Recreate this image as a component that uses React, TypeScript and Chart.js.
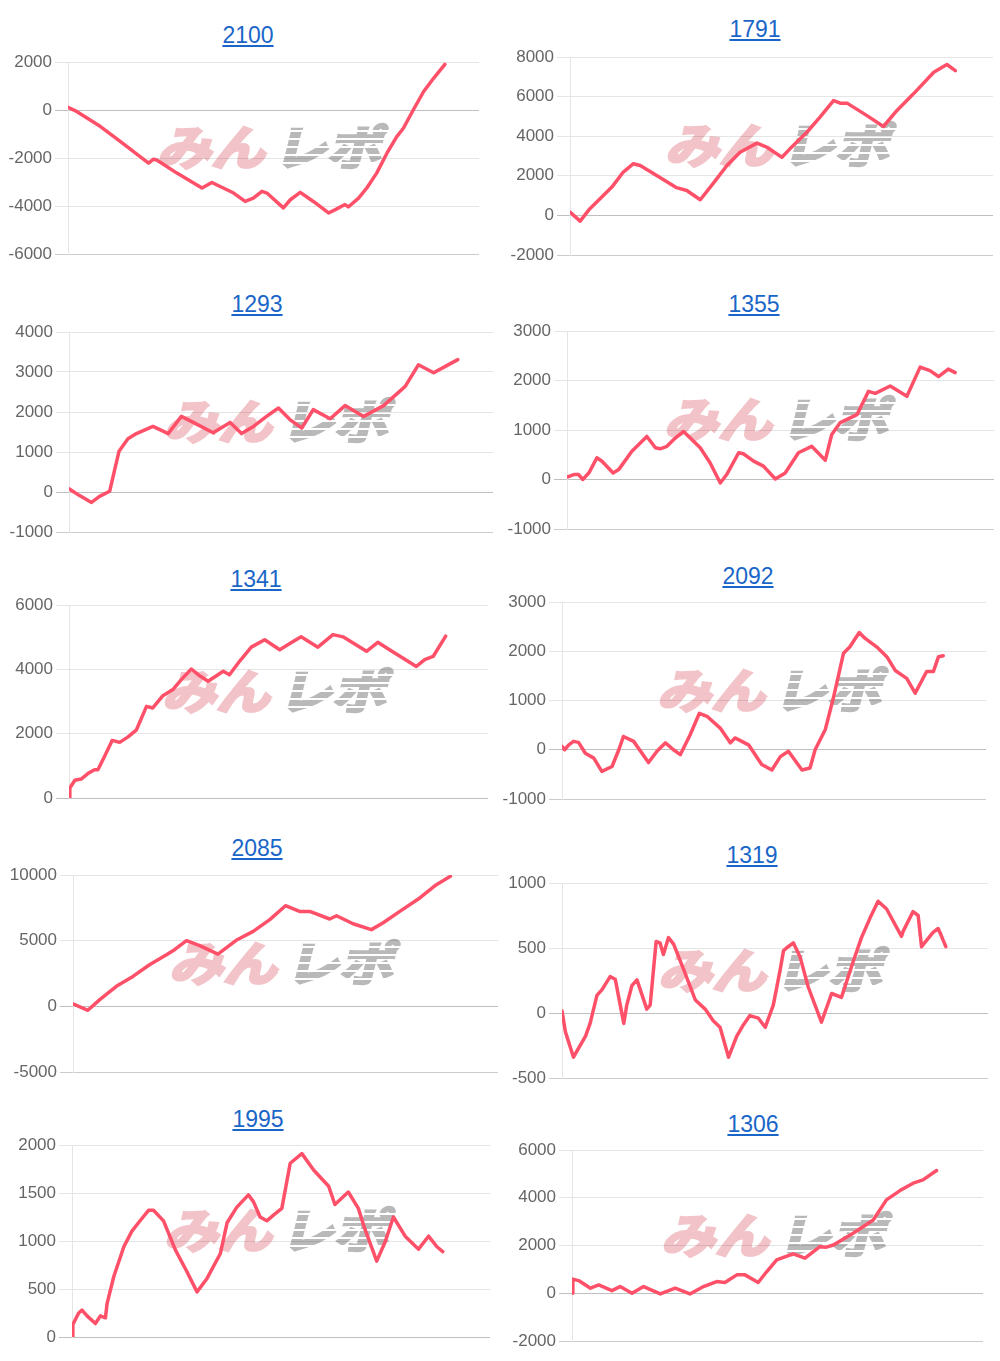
import React, { useEffect, useRef } from "react";
import { Chart, registerables } from "chart.js";

Chart.register(...registerables);

// ---- data (x = games played, y = coin difference) ----
const g2100 = [0, 220, 790, 1270, 1960, 2080, 2160, 2650, 3260, 3500, 4030, 4310, 4510, 4720, 4840, 5240, 5410, 5650, 5970, 6340, 6540, 6740, 6820, 7070, 7270, 7510, 7760, 8000, 8160, 8400, 8650, 8890, 9170];
const d2100 = [110, -70, -690, -1310, -2210, -2050, -2080, -2630, -3250, -3020, -3460, -3810, -3670, -3390, -3460, -4080, -3740, -3430, -3810, -4290, -4120, -3940, -4040, -3670, -3250, -2630, -1800, -1110, -760, 0, 760, 1310, 1900];

const g1791 = [0, 240, 470, 710, 990, 1260, 1500, 1660, 2050, 2520, 2760, 3080, 3390, 3710, 4020, 4420, 4650, 5010, 5200, 5600, 5910, 6230, 6390, 6550, 7020, 7410, 7730, 8120, 8600, 8910, 9110];
const d1791 = [170, -290, 340, 840, 1430, 2190, 2610, 2520, 2020, 1400, 1260, 790, 1630, 2520, 3190, 3650, 3450, 2940, 3360, 4200, 4960, 5800, 5670, 5670, 5040, 4490, 5300, 6140, 7230, 7620, 7310];

const g1293 = [0, 250, 530, 720, 960, 1180, 1390, 1590, 1980, 2340, 2650, 2930, 3400, 3800, 4070, 4350, 4660, 4940, 5210, 5490, 5760, 6160, 6510, 6950, 7420, 7930, 8240, 8600, 8910, 9170];
const d1293 = [80, -90, -260, -110, 20, 1020, 1330, 1460, 1640, 1460, 1890, 1740, 1480, 1740, 1460, 1640, 1890, 2100, 1810, 1600, 2060, 1830, 2160, 1890, 2160, 2640, 3180, 2980, 3160, 3310];

const g1355 = [0, 160, 270, 370, 510, 700, 820, 1080, 1210, 1520, 1870, 2070, 2180, 2340, 2500, 2730, 3120, 3350, 3590, 3740, 4020, 4130, 4370, 4600, 4880, 5110, 5420, 5730, 6050, 6200, 6400, 6790, 7060, 7220, 7570, 7960, 8270, 8500, 8700, 8930, 9090];
const d1355 = [50, 100, 100, 0, 130, 440, 370, 130, 200, 570, 870, 640, 620, 670, 810, 970, 640, 340, -70, 100, 540, 520, 370, 270, 10, 130, 540, 670, 390, 910, 1150, 1310, 1780, 1740, 1890, 1680, 2270, 2200, 2080, 2230, 2160];

const g1341 = [0, 20, 140, 290, 450, 610, 690, 850, 1030, 1210, 1410, 1610, 1850, 2000, 2240, 2480, 2680, 2920, 3120, 3320, 3520, 3680, 3830, 4070, 4350, 4670, 5030, 5270, 5540, 5940, 6300, 6540, 7100, 7370, 7650, 8290, 8490, 8690, 8990];
const d1341 = [0, 310, 550, 590, 760, 880, 880, 1300, 1790, 1730, 1900, 2120, 2850, 2800, 3180, 3370, 3680, 4010, 3800, 3630, 3800, 3940, 3830, 4250, 4690, 4920, 4610, 4800, 5010, 4690, 5080, 5010, 4560, 4840, 4610, 4090, 4300, 4400, 5030];

const g2092 = [0, 60, 160, 270, 390, 550, 750, 940, 1180, 1340, 1450, 1690, 2040, 2240, 2440, 2630, 2790, 3020, 3240, 3420, 3730, 3970, 4080, 4400, 4710, 4950, 5150, 5340, 5660, 5850, 5970, 6210, 6400, 6640, 6790, 7010, 7150, 7420, 7660, 7860, 8130, 8330, 8600, 8760, 8880, 8990];
const d2092 = [70, 0, 100, 170, 150, -70, -170, -440, -340, 0, 270, 170, -260, -30, 140, 0, -100, 300, 740, 680, 440, 140, 240, 100, -300, -410, -140, -30, -410, -370, 0, 410, 1050, 1960, 2090, 2380, 2260, 2090, 1890, 1610, 1450, 1150, 1590, 1590, 1890, 1910];

const g2085 = [0, 350, 630, 1020, 1410, 1800, 2200, 2390, 2670, 2980, 3410, 3840, 4240, 4630, 5000, 5330, 5570, 6040, 6200, 6590, 7020, 7290, 7690, 8160, 8550, 8880];
const d2085 = [180, -300, 510, 1520, 2280, 3170, 3930, 4310, 5000, 4620, 3980, 5030, 5710, 6600, 7660, 7230, 7230, 6650, 6900, 6290, 5840, 6350, 7230, 8250, 9260, 9900];

const g1319 = [0, 80, 270, 390, 550, 660, 820, 940, 1130, 1250, 1450, 1520, 1640, 1760, 1990, 2070, 2210, 2300, 2380, 2500, 2620, 2850, 3130, 3360, 3550, 3710, 3910, 4100, 4260, 4410, 4610, 4770, 4960, 5120, 5200, 5270, 5430, 5590, 5780, 6090, 6330, 6560, 6840, 7030, 7230, 7420, 7620, 7970, 8010, 8240, 8360, 8440, 8710, 8830, 8910, 9010];
const d1319 = [15, -145, -340, -270, -180, -80, 135, 180, 280, 260, -80, 60, 210, 255, 30, 60, 550, 540, 450, 580, 530, 340, 100, 30, -60, -110, -340, -180, -90, -20, -40, -110, 60, 330, 480, 500, 540, 430, 200, -70, 150, 120, 400, 580, 730, 860, 800, 590, 630, 780, 750, 510, 620, 650, 590, 510];

const g1995 = [0, 20, 160, 240, 360, 560, 680, 800, 840, 1000, 1240, 1430, 1590, 1830, 1950, 2190, 2470, 2750, 2990, 3230, 3550, 3710, 3940, 4220, 4340, 4500, 4660, 4820, 5020, 5220, 5500, 5780, 6140, 6290, 6610, 6850, 7010, 7290, 7490, 7690, 7970, 8290, 8530, 8730, 8870];
const d1995 = [0, 130, 250, 280, 220, 140, 220, 200, 350, 630, 940, 1100, 1190, 1320, 1320, 1210, 910, 680, 470, 610, 870, 1190, 1350, 1480, 1410, 1250, 1210, 1270, 1340, 1810, 1910, 1740, 1570, 1380, 1510, 1340, 1120, 790, 990, 1250, 1050, 915, 1050, 940, 890];

const g1306 = [0, 20, 160, 450, 650, 970, 1170, 1460, 1740, 2150, 2510, 2870, 3200, 3520, 3720, 4010, 4210, 4530, 4740, 4980, 5380, 5670, 6030, 6190, 6360, 6840, 7330, 7650, 7980, 8300, 8540, 8870];
const d1306 = [0, 590, 530, 210, 350, 110, 280, 0, 280, -30, 210, -30, 280, 490, 450, 770, 770, 450, 910, 1400, 1650, 1470, 1950, 1930, 2020, 2510, 3070, 3910, 4300, 4610, 4750, 5140];

const titles = ["2100", "1791", "1293", "1355", "1341", "2092", "2085", "1319", "1995", "1306"];
const yMins = [-6000, -2000, -1000, -1000, 0, -1000, -5000, -500, 0, -2000];
const yMaxs = [2000, 8000, 4000, 3000, 6000, 3000, 10000, 1000, 2000, 6000];
const ySteps = [2000, 2000, 1000, 1000, 2000, 1000, 5000, 500, 500, 2000];
const gamesList = [g2100, g1791, g1293, g1355, g1341, g2092, g2085, g1319, g1995, g1306];
const diffList = [d2100, d1791, d1293, d1355, d1341, d2092, d2085, d1319, d1995, d1306];
const X_MAX = 10000;

// ---- layout (page pixels) ----
type Box = { col: number; axis: number; right: number; top: number; bottom: number; tx: number; tb: number };
const boxes: Box[] = [
  { col: 0, axis: 68, right: 479, top: 62, bottom: 254, tx: 248, tb: 43 },
  { col: 500, axis: 570, right: 993, top: 57, bottom: 255, tx: 755, tb: 37 },
  { col: 0, axis: 69, right: 493, top: 332, bottom: 532, tx: 257, tb: 312 },
  { col: 500, axis: 567, right: 994, top: 331, bottom: 529, tx: 754, tb: 312 },
  { col: 0, axis: 69, right: 488, top: 605, bottom: 798, tx: 256, tb: 587 },
  { col: 500, axis: 562, right: 986, top: 602, bottom: 799, tx: 748, tb: 584 },
  { col: 0, axis: 73, right: 498, top: 875, bottom: 1072, tx: 257, tb: 856 },
  { col: 500, axis: 562, right: 988, top: 883, bottom: 1078, tx: 752, tb: 863 },
  { col: 0, axis: 72, right: 490, top: 1145, bottom: 1337, tx: 258, tb: 1127 },
  { col: 500, axis: 572, right: 983, top: 1150, bottom: 1341, tx: 753, tb: 1132 },
];

const PAD = 15;
const LINE = "rgb(255, 80, 105)";
const FONT = '"Liberation Sans", Arial, Helvetica, sans-serif';
const PINK = "#f2c3c8";
const GREY = "#b9b9b9";

function Watermark({ cx, cy }: { cx: number; cy: number }) {
  const glyph = {
    display: "inline-block",
    transform: "skewX(-14deg) scaleX(1.15)",
  } as React.CSSProperties;
  return (
    <div
      style={{
        position: "absolute",
        left: cx,
        top: cy,
        transform: "translate(-50%, -50%)",
        whiteSpace: "nowrap",
        fontFamily: '"Noto Sans CJK JP", sans-serif',
        fontWeight: 700,
        fontSize: 47,
        lineHeight: "50px",
      }}
    >
      <span style={{ ...glyph, color: PINK, WebkitTextStroke: `3px ${PINK}` }}>みん</span>
      <span style={{ ...glyph, position: "relative", marginLeft: 22, color: GREY, WebkitTextStroke: `3px ${GREY}` }}>
        レポ
        <span
          style={{
            position: "absolute",
            left: -8,
            right: -8,
            top: 4,
            bottom: 4,
            backgroundImage:
              "repeating-linear-gradient(180deg, rgba(255,255,255,0) 0px, rgba(255,255,255,0) 6px, #fff 6px, #fff 8px)",
          }}
        />
      </span>
    </div>
  );
}

function Panel({ i }: { i: number }) {
  const ref = useRef<HTMLCanvasElement | null>(null);
  const b = boxes[i];
  const w = b.right - b.col;
  const h = b.bottom - b.top + PAD * 2;

  useEffect(() => {
    if (!ref.current) return;
    const games = gamesList[i];
    const diff = diffList[i];
    const yMin = yMins[i];
    const chart = new Chart(ref.current, {
      type: "line",
      data: {
        datasets: [
          {
            data: games.map((g, k) => ({ x: g, y: diff[k] })),
            borderColor: LINE,
            borderWidth: 3.5,
            pointRadius: 0,
            tension: 0,
            fill: false,
            borderJoinStyle: "round",
            borderCapStyle: "round",
          },
        ],
      },
      options: {
        animation: false,
        responsive: false,
        maintainAspectRatio: false,
        layout: { padding: { top: PAD, bottom: PAD, left: 0, right: 0 } },
        plugins: { legend: { display: false }, tooltip: { enabled: false }, title: { display: false } },
        scales: {
          x: { type: "linear", min: 0, max: X_MAX, display: false },
          y: {
            min: yMin,
            max: yMaxs[i],
            ticks: {
              stepSize: ySteps[i],
              color: "#666",
              font: { family: FONT, size: 17 },
              padding: 3,
              callback: (v: any) => String(v),
            },
            grid: {
              color: (ctx: any) => {
                const v = ctx.tick ? ctx.tick.value : null;
                if (v === 0) return "rgba(0,0,0,0.25)";
                if (v === yMin) return "rgba(0,0,0,0.2)";
                return "rgba(0,0,0,0.1)";
              },
              tickLength: 13,
              drawTicks: true,
            },
            border: { color: "rgba(0,0,0,0.1)" },
            afterFit: (scale: any) => {
              scale.width = b.axis - b.col;
            },
          },
        },
      },
    } as any);
    return () => chart.destroy();
  }, [i]);

  const cx = (b.axis + b.right) / 2;
  const cy = (b.top + b.bottom) / 2 - 13;

  return (
    <>
      <div
        style={{
          position: "absolute",
          left: b.tx - 100,
          top: b.tb - 19.5,
          width: 200,
          textAlign: "center",
          fontFamily: FONT,
          fontSize: 23,
          lineHeight: "23px",
        }}
      >
        <a href="#" style={{ color: "#1a66c8", textDecoration: "underline" }}>
          {titles[i]}
        </a>
      </div>
      <Watermark cx={cx} cy={cy} />
      <canvas
        ref={ref}
        width={w}
        height={h}
        style={{ position: "absolute", left: b.col, top: b.top - PAD, width: w, height: h }}
      />
    </>
  );
}

export default function App() {
  return (
    <div style={{ position: "absolute", left: 0, top: 0, width: 1000, height: 1361, background: "#fff", overflow: "hidden" }}>
      {titles.map((_, i) => (
        <Panel key={i} i={i} />
      ))}
    </div>
  );
}
